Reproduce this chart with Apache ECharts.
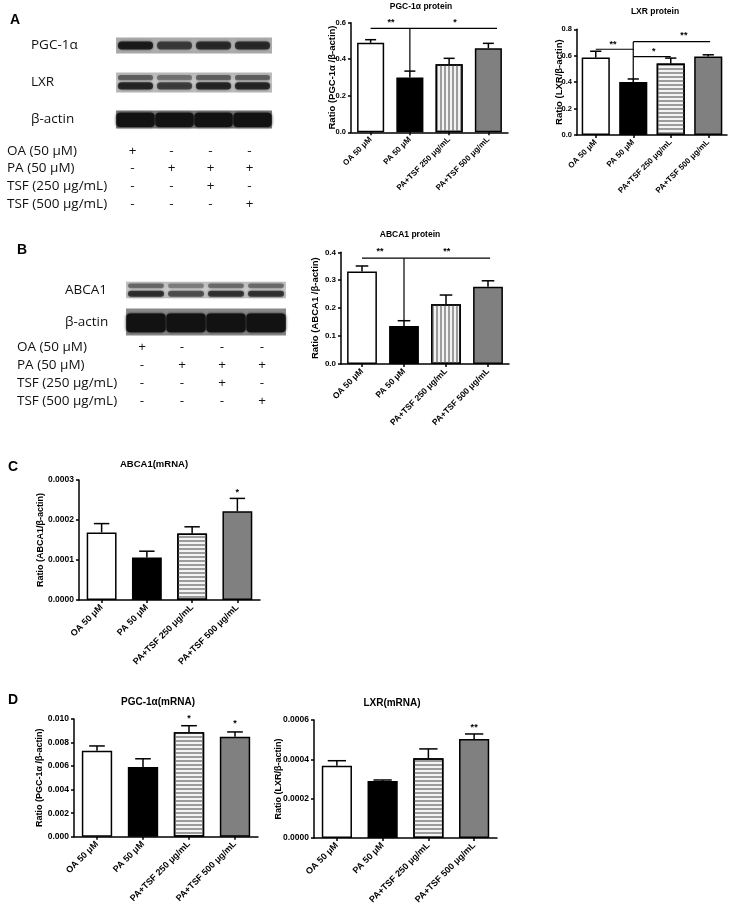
<!DOCTYPE html>
<html><head><meta charset="utf-8">
<script src="https://cdn.jsdelivr.net/npm/echarts@6/dist/echarts.min.js"></script>
<style>html,body{margin:0;padding:0;background:#fff}#c{width:730px;height:920px}</style>
</head><body><div id="c"></div>
<script>
// ---------------- DATA ----------------
const categories = ['OA 50 μM', 'PA 50 μM', 'PA+TSF 250 μg/mL', 'PA+TSF 500 μg/mL'];

// A: protein ratios (mean, SEM)
const pgcProteinMean = [0.49, 0.30, 0.372, 0.46];
const pgcProteinSem  = [0.017, 0.035, 0.033, 0.027];
const pgcProteinTicks = ['0.0', '0.2', '0.4', '0.6'];
const lxrProteinMean = [0.587, 0.402, 0.542, 0.595];
const lxrProteinSem  = [0.047, 0.022, 0.04, 0.012];
const lxrProteinTicks = ['0.0', '0.2', '0.4', '0.6', '0.8'];
// B
const abcaProteinMean = [0.331, 0.136, 0.214, 0.277];
const abcaProteinSem  = [0.02, 0.019, 0.033, 0.021];
const abcaProteinTicks = ['0.0', '0.1', '0.2', '0.3', '0.4'];
// C
const abcaMrnaMean = [0.000169, 0.000106, 0.000166, 0.000222];
const abcaMrnaSem  = [0.000022, 0.000016, 0.000017, 0.000032];
const abcaMrnaTicks = ['0.0000', '0.0001', '0.0002', '0.0003'];
// D
const pgcMrnaMean = [0.00731, 0.00592, 0.00887, 0.0085];
const pgcMrnaSem  = [0.0004, 0.0007, 0.00056, 0.0004];
const pgcMrnaTicks = ['0.000', '0.002', '0.004', '0.006', '0.008', '0.010'];
const lxrMrnaMean = [0.000368, 0.00029, 0.000406, 0.000504];
const lxrMrnaSem  = [0.000025, 0.000005, 0.000047, 0.000025];
const lxrMrnaTicks = ['0.0000', '0.0002', '0.0004', '0.0006'];

// significance marks: lines [fromIdx, toIdx, y], drops [idx, yTop, yBottom], stars [idx, y, count]
const pgcProteinLines = [[0, 3.22, 0.569]];
const pgcProteinDrops = [[1, 0.569, 0.336]];
const pgcProteinStars = [[0.52, 0.612, 2], [2.15, 0.612, 1]];
const lxrProteinLines = [[0, 1, 0.649], [1, 3.05, 0.706], [1, 2, 0.593]];
const lxrProteinDrops = [[1, 0.706, 0.424]];
const lxrProteinStars = [[0.46, 0.699, 2], [1.55, 0.651, 1], [2.35, 0.772, 2]];
const abcaProteinLines = [[0, 3.05, 0.379]];
const abcaProteinDrops = [[1, 0.379, 0.155]];
const abcaProteinStars = [[0.43, 0.41, 2], [2.02, 0.41, 2]];
const abcaMrnaStars = [[3, 0.000275, 1]];
const pgcMrnaStars = [[2, 0.0102, 1], [3, 0.00977, 1]];
const lxrMrnaStars = [[3, 0.000575, 2]];

// Western blot panels: relative band intensity per lane
const lanes = ['1', '2', '3', '4'];
const blotARows = ['PGC-1α', 'LXR', 'β-actin'];
const blotAIntensity = [[0.95, 0.7, 0.82, 0.82], [0.85, 0.7, 0.85, 0.85], [1, 1, 1, 1]];
const blotBRows = ['ABCA1', 'β-actin'];
const blotBIntensity = [[0.8, 0.62, 0.78, 0.78], [1, 1, 1, 1]];

// Treatment table
const treatRows = ['OA (50 μM)', 'PA (50 μM)', 'TSF (250 μg/mL)', 'TSF (500 μg/mL)'];
const treatOA = ['+', '-', '-', '-'];
const treatPA = ['-', '+', '+', '+'];
const treatTSF250 = ['-', '-', '+', '-'];
const treatTSF500 = ['-', '-', '-', '+'];

// ---------------- STYLES ----------------
const FONT = '"Liberation Sans", Arial, sans-serif';
const BFONT = '"Open Sans", "Noto Sans", sans-serif';
const S_WHITE = {color: '#ffffff', borderColor: '#000', borderWidth: 1.5};
const S_BLACK = {color: '#000000', borderColor: '#000', borderWidth: 1.5};
const S_VSTR = {color: '#f3f3f3', borderColor: '#000', borderWidth: 1.5,
  decal: {symbol: 'rect', symbolSize: 1, color: '#9c9c9c', dashArrayX: [2, 2], dashArrayY: [1, 0]}};
const S_HSTR = {color: '#f3f3f3', borderColor: '#000', borderWidth: 1.5,
  decal: {symbol: 'rect', symbolSize: 1, color: '#9c9c9c', dashArrayX: [1, 0], dashArrayY: [2, 2]}};
const S_GRAY = {color: '#808080', borderColor: '#000', borderWidth: 1.5};

const option = {animation: false, backgroundColor: '#ffffff', grid: [], xAxis: [], yAxis: [], series: [], graphic: []};

function addBarChart(sp) {
  const gi = option.grid.length;
  const ticks = sp.ticks;
  const max = parseFloat(ticks[ticks.length - 1]);
  const interval = parseFloat(ticks[1]);
  option.grid.push({left: sp.box[0], top: sp.box[1], width: sp.box[2], height: sp.box[3],
    containLabel: false, outerBoundsMode: 'none'});
  option.xAxis.push({type: 'category', gridIndex: gi, data: categories,
    axisLine: {show: true, lineStyle: {color: '#000', width: 1.5}},
    axisTick: {show: true, alignWithLabel: true, length: 3, lineStyle: {color: '#000', width: 1.5}},
    axisLabel: {interval: 0, rotate: 45, margin: 6, color: '#000', fontFamily: FONT, fontWeight: 'bold', fontSize: sp.xfs},
    splitLine: {show: false}});
  option.yAxis.push({type: 'value', gridIndex: gi, min: 0, max: max, interval: interval,
    axisLine: {show: true, lineStyle: {color: '#000', width: 1.5}},
    axisTick: {show: true, length: 3, lineStyle: {color: '#000', width: 1.5}},
    splitLine: {show: false},
    axisLabel: {margin: 5, color: '#000', fontFamily: FONT, fontWeight: 'bold', fontSize: sp.yfs,
      formatter: (v, idx) => ticks[idx] !== undefined ? ticks[idx] : ''},
    name: sp.name, nameLocation: 'middle', nameGap: sp.nameGap, nameMoveOverlap: false,
    nameTextStyle: {color: '#000', fontFamily: FONT, fontWeight: 'bold', fontSize: sp.nfs}});
  option.series.push({type: 'bar', xAxisIndex: gi, yAxisIndex: gi, barWidth: sp.barWidth, silent: true,
    data: sp.mean.map((v, i) => ({value: v, itemStyle: sp.styles[i]}))});
  // error bars (mean + SEM)
  option.series.push({type: 'custom', xAxisIndex: gi, yAxisIndex: gi, silent: true, clip: false, z: 3,
    data: sp.mean.map((v, i) => [i, v, sp.sem[i]]),
    renderItem: (params, api) => {
      const i = api.value(0), m = api.value(1), e = api.value(2);
      const p0 = api.coord([i, m]), p1 = api.coord([i, m + e]);
      const half = api.size([1, 0])[0] * sp.cap;
      const st = {stroke: '#000', lineWidth: 1.5};
      return {type: 'group', children: [
        {type: 'line', shape: {x1: p0[0], y1: p0[1], x2: p1[0], y2: p1[1]}, style: st},
        {type: 'line', shape: {x1: p1[0] - half, y1: p1[1], x2: p1[0] + half, y2: p1[1]}, style: st}]};
    }});
  if (sp.lines && sp.lines.length) {
    option.series.push({type: 'custom', xAxisIndex: gi, yAxisIndex: gi, silent: true, clip: false, z: 3,
      data: sp.lines.map(l => [0, l[2], l[0], l[1]]),
      renderItem: (params, api) => {
        const base = api.coord([0, api.value(1)]);
        const bw = api.size([1, 0])[0];
        return {type: 'line', shape: {x1: base[0] + api.value(2) * bw, y1: base[1], x2: base[0] + api.value(3) * bw, y2: base[1]},
          style: {stroke: '#000', lineWidth: 1.2}};
      }});
  }
  if (sp.drops && sp.drops.length) {
    option.series.push({type: 'custom', xAxisIndex: gi, yAxisIndex: gi, silent: true, clip: false, z: 3,
      data: sp.drops.map(d => [0, d[1], d[0], d[2]]),
      renderItem: (params, api) => {
        const top = api.coord([0, api.value(1)]);
        const bot = api.coord([0, api.value(3)]);
        const bw = api.size([1, 0])[0];
        const x = top[0] + api.value(2) * bw;
        return {type: 'line', shape: {x1: x, y1: top[1], x2: x, y2: bot[1]}, style: {stroke: '#000', lineWidth: 1.2}};
      }});
  }
  if (sp.stars && sp.stars.length) {
    option.series.push({type: 'custom', xAxisIndex: gi, yAxisIndex: gi, silent: true, clip: false, z: 4,
      data: sp.stars.map(s => [0, s[1], s[0], s[2]]),
      renderItem: (params, api) => {
        const base = api.coord([0, api.value(1)]);
        const bw = api.size([1, 0])[0];
        return {type: 'text', x: base[0] + api.value(2) * bw, y: base[1] + sp.sfs * 0.25,
          style: {text: '*'.repeat(api.value(3)), fill: '#000', font: 'bold ' + sp.sfs + 'px ' + FONT,
            align: 'center', verticalAlign: 'middle', textAlign: 'center', textVerticalAlign: 'middle'}};
      }});
  }
}

addBarChart({box: [351, 22.7, 157, 109.6], ticks: pgcProteinTicks, mean: pgcProteinMean, sem: pgcProteinSem,
  styles: [S_WHITE, S_BLACK, S_VSTR, S_GRAY], name: 'Ratio (PGC-1α /β-actin)', nameGap: 14,
  xfs: 8, yfs: 7.5, nfs: 9.5, sfs: 9, barWidth: '69%', cap: 0.14,
  lines: pgcProteinLines, drops: pgcProteinDrops, stars: pgcProteinStars});
addBarChart({box: [577, 29.3, 150, 105.7], ticks: lxrProteinTicks, mean: lxrProteinMean, sem: lxrProteinSem,
  styles: [S_WHITE, S_BLACK, S_HSTR, S_GRAY], name: 'Ratio (LXR/β-actin)', nameGap: 13,
  xfs: 8, yfs: 7.5, nfs: 9.5, sfs: 9, barWidth: '75%', cap: 0.15,
  lines: lxrProteinLines, drops: lxrProteinDrops, stars: lxrProteinStars});
addBarChart({box: [341, 252.3, 168, 111.7], ticks: abcaProteinTicks, mean: abcaProteinMean, sem: abcaProteinSem,
  styles: [S_WHITE, S_BLACK, S_VSTR, S_GRAY], name: 'Ratio (ABCA1 /β-actin)', nameGap: 21,
  xfs: 8.5, yfs: 8, nfs: 9.5, sfs: 9, barWidth: '71%', cap: 0.15,
  lines: abcaProteinLines, drops: abcaProteinDrops, stars: abcaProteinStars});
addBarChart({box: [79, 480, 181, 120], ticks: abcaMrnaTicks, mean: abcaMrnaMean, sem: abcaMrnaSem,
  styles: [S_WHITE, S_BLACK, S_HSTR, S_GRAY], name: 'Ratio (ABCA1/β-actin)', nameGap: 34,
  xfs: 9, yfs: 8.5, nfs: 9, sfs: 9, barWidth: '66%', cap: 0.17, stars: abcaMrnaStars});
addBarChart({box: [74, 719, 184, 117.7], ticks: pgcMrnaTicks, mean: pgcMrnaMean, sem: pgcMrnaSem,
  styles: [S_WHITE, S_BLACK, S_HSTR, S_GRAY], name: 'Ratio (PGC-1α /β-actin)', nameGap: 30,
  xfs: 9, yfs: 8.5, nfs: 9, sfs: 9, barWidth: '66%', cap: 0.17, stars: pgcMrnaStars});
addBarChart({box: [314, 720, 183, 118], ticks: lxrMrnaTicks, mean: lxrMrnaMean, sem: lxrMrnaSem,
  styles: [S_WHITE, S_BLACK, S_HSTR, S_GRAY], name: 'Ratio (LXR/β-actin)', nameGap: 31,
  xfs: 9, yfs: 8.5, nfs: 9, sfs: 9, barWidth: '66%', cap: 0.2, stars: lxrMrnaStars});

// ---------------- BLOTS ----------------
function addBlot(box, rows, intensity, rowStyle, labelX) {
  const gi = option.grid.length;
  option.grid.push({left: box[0], top: box[1], width: box[2], height: box[3], containLabel: false, outerBoundsMode: 'none'});
  option.xAxis.push({type: 'category', gridIndex: gi, data: lanes, show: false});
  option.yAxis.push({type: 'category', gridIndex: gi, data: rows, inverse: true,
    axisLine: {show: false}, axisTick: {show: false}, splitLine: {show: false},
    axisLabel: {interval: 0, align: 'left', margin: box[0] - labelX, color: '#111', fontFamily: BFONT, fontSize: 13.5}});
  option.series.push({type: 'custom', xAxisIndex: gi, yAxisIndex: gi, silent: true, clip: false, z: 1,
    data: rows.map((r, i) => [0, i]),
    renderItem: (params, api) => {
      const r = api.value(1);
      const c = api.coord([0, r]);
      const bw = api.size([1, 0])[0], bh = api.size([0, 1])[1];
      const st = rowStyle[r];
      const h = bh * st.h;
      return {type: 'rect', shape: {x: c[0] - bw / 2, y: c[1] - h / 2, width: bw * lanes.length, height: h},
        style: {fill: {type: 'linear', x: 0, y: 0, x2: 0, y2: 1, colorStops: [
          {offset: 0, color: st.bg2}, {offset: 0.5, color: st.bg}, {offset: 1, color: st.bg2}]}}};
    }});
  const bandData = [];
  intensity.forEach((row, r) => row.forEach((v, c) => bandData.push([c, r, v])));
  option.series.push({type: 'custom', xAxisIndex: gi, yAxisIndex: gi, silent: true, clip: false, z: 2,
    data: bandData,
    renderItem: (params, api) => {
      const ci = api.value(0), r = api.value(1), v = api.value(2);
      const c = api.coord([ci, r]);
      const bw = api.size([1, 0])[0], bh = api.size([0, 1])[1];
      const st = rowStyle[r];
      const sh = bh * st.h;
      const children = st.bands.map(b => {
        const h = sh * b.h;
        const w = bw * st.w;
        const col = 'rgba(18,18,18,' + Math.min(1, b.a * v).toFixed(3) + ')';
        return {type: 'rect', shape: {x: c[0] - w / 2, y: c[1] + b.dy * sh - h / 2, width: w, height: h, r: Math.min(h / 2, 4)},
          style: {fill: col, shadowBlur: 3, shadowColor: col}};
      });
      return {type: 'group', children: children};
    }});
}

const blotAStyle = [
  {h: 0.43, w: 0.9, bg: '#b9b9b9', bg2: '#a8a8a8', bands: [{dy: 0, h: 0.5, a: 0.9}]},
  {h: 0.54, w: 0.9, bg: '#cbcbcb', bg2: '#b8b8b8', bands: [{dy: -0.24, h: 0.26, a: 0.55}, {dy: 0.17, h: 0.36, a: 0.92}]},
  {h: 0.49, w: 0.98, bg: '#8f8f8f', bg2: '#7a7a7a', bands: [{dy: 0.02, h: 0.78, a: 1}]}
];
const blotBStyle = [
  {h: 0.52, w: 0.9, bg: '#cdcdcd', bg2: '#bdbdbd', bands: [{dy: -0.25, h: 0.28, a: 0.55}, {dy: 0.22, h: 0.36, a: 0.9}]},
  {h: 0.84, w: 0.98, bg: '#9a9a9a', bg2: '#888888', bands: [{dy: 0.03, h: 0.7, a: 1}]}
];
addBlot([116, 27, 156, 111], blotARows, blotAIntensity, blotAStyle, 31);
addBlot([126, 274, 160, 64], blotBRows, blotBIntensity, blotBStyle, 65);

// ---------------- TREATMENT TABLES ----------------
function addTable(box, labelX) {
  const gi = option.grid.length;
  option.grid.push({left: box[0], top: box[1], width: box[2], height: box[3], containLabel: false, outerBoundsMode: 'none'});
  option.xAxis.push({type: 'category', gridIndex: gi, data: lanes, show: false});
  option.yAxis.push({type: 'category', gridIndex: gi, data: treatRows, inverse: true,
    axisLine: {show: false}, axisTick: {show: false}, splitLine: {show: false},
    axisLabel: {interval: 0, align: 'left', margin: box[0] - labelX, color: '#111', fontFamily: BFONT, fontSize: 13.5}});
  const marks = [treatOA, treatPA, treatTSF250, treatTSF500];
  const data = [];
  marks.forEach((row, r) => row.forEach((m, c) => data.push([c, r, m === '+' ? 1 : 0])));
  option.series.push({type: 'custom', xAxisIndex: gi, yAxisIndex: gi, silent: true, clip: false,
    data: data,
    renderItem: (params, api) => {
      const p = api.coord([api.value(0), api.value(1)]);
      return {type: 'text', x: p[0], y: p[1],
        style: {text: api.value(2) === 1 ? '+' : '-', fill: '#111', font: '13.5px ' + BFONT,
          align: 'center', verticalAlign: 'middle', textAlign: 'center', textVerticalAlign: 'middle'}};
    }});
}
addTable([113, 142, 156, 71], 7);
addTable([122, 338, 160, 72], 17);

// ---------------- TITLES & PANEL LETTERS ----------------
function txt(t, x, y, size, align) {
  return {type: 'text', x: x, y: y, silent: true,
    style: {text: t, fill: '#000', font: 'bold ' + size + 'px ' + FONT,
      align: align || 'center', verticalAlign: 'middle', textAlign: align || 'center', textVerticalAlign: 'middle'}};
}
option.graphic = [
  txt('A', 10, 20, 14, 'left'), txt('B', 17, 250, 14, 'left'), txt('C', 8, 467, 14, 'left'), txt('D', 8, 700, 14, 'left'),
  txt('PGC-1α protein', 421, 7, 8.5), txt('LXR protein', 655, 12, 8.5), txt('ABCA1 protein', 410, 235, 8.5),
  txt('ABCA1(mRNA)', 154, 464, 9.5), txt('PGC-1α(mRNA)', 158, 702, 10), txt('LXR(mRNA)', 392, 703, 10)
];

const chart = echarts.init(document.getElementById('c'), null, {renderer: 'canvas'});
chart.setOption(option);
</script>
</body></html>
